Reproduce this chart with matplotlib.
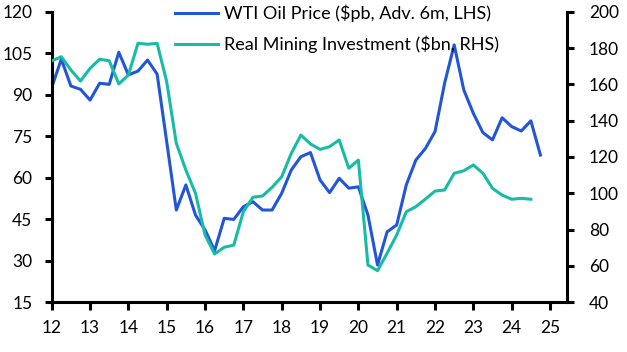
import matplotlib
matplotlib.use("Agg")
import matplotlib.pyplot as plt
import numpy as np

plt.rcParams['font.family'] = ['Lato', 'DejaVu Sans']

wti = [92.7, 102.9, 93.2, 92.0, 88.1, 94.2, 93.8, 105.4, 97.2, 98.6, 102.6, 97.5,
       73.0, 48.3, 57.4, 46.5, 41.1, 33.6, 45.3, 44.9, 49.5, 51.3, 48.3, 48.3,
       54.4, 62.8, 67.6, 69.1, 59.2, 54.6, 59.8, 56.2, 56.7, 46.5, 28.4, 40.4,
       42.9, 57.4, 66.4, 70.6, 76.7, 94.2, 108.1, 91.8, 83.3, 76.3, 73.7, 81.7,
       78.5, 76.9, 80.6, 68.2]
mining = [173.0, 175.3, 168.0, 161.9, 168.9, 173.9, 173.1, 160.3, 165.2, 182.7,
          182.2, 182.7, 161.5, 127.6, 112.8, 100.0, 77.0, 66.5, 70.2, 71.4, 89.8,
          97.8, 98.5, 103.3, 109.1, 122.0, 132.1, 127.2, 124.2, 125.7, 129.4,
          113.8, 118.3, 60.4, 57.3, 66.9, 77.0, 89.8, 92.6, 96.8, 101.2, 101.8,
          111.0, 112.4, 115.6, 111.0, 102.7, 99.0, 96.7, 97.2, 96.7]
x_wti = 12 + np.arange(len(wti)) * 0.25
x_min = 12 + np.arange(len(mining)) * 0.25

years = list(range(12, 26))
left_ticks = [15, 30, 45, 60, 75, 90, 105, 120]
right_ticks = [40, 60, 80, 100, 120, 140, 160, 180, 200]

blue = '#2256D8'
teal = '#18BBA5'

fig = plt.figure(figsize=(6.27, 3.52), dpi=100)
ax = fig.add_axes([0.0825, 0.142, 0.8213, 0.824])
ax2 = ax.twinx()

l1, = ax.plot(x_wti, wti, color=blue, lw=2.2, label='WTI Oil Price ($pb, Adv. 6m, LHS)')
l2, = ax2.plot(x_min, mining, color=teal, lw=2.2, label='Real Mining Investment ($bn, RHS)')

ax.set_xlim(12, 25.435)
ax.set_ylim(15, 120)
ax2.set_ylim(40, 200)
ax.set_xticks(years)
ax.set_xticklabels([str(y) for y in years])
ax.set_yticks(left_ticks)
ax2.set_yticks(right_ticks)

for a in (ax, ax2):
    a.spines['top'].set_visible(False)
    for s in a.spines.values():
        s.set_linewidth(2.2)
    a.tick_params(width=2.2, length=5, labelsize=12.5, colors='black')
ax.spines['right'].set_visible(False)
ax2.spines['left'].set_visible(False)
ax2.spines['bottom'].set_visible(False)
ax.tick_params(axis='x', length=6, pad=7)
ax.tick_params(axis='y', pad=9)
ax2.tick_params(axis='y', pad=11)

ax.legend(handles=[l1, l2], loc='upper left', bbox_to_anchor=(0.225, 1.05),
          frameon=False, fontsize=13, handlelength=2.4, handletextpad=0.35,
          labelspacing=0.75, borderaxespad=0)

fig.savefig('out.png', dpi=100)
